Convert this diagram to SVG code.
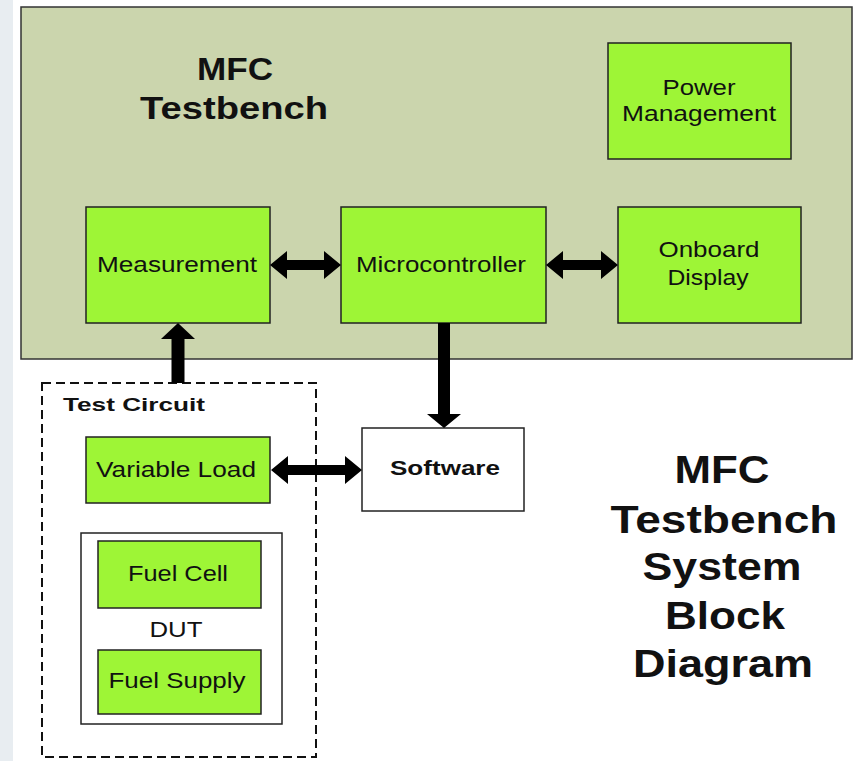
<svg xmlns="http://www.w3.org/2000/svg" width="853" height="761" viewBox="0 0 853 761">
<style>
.t{font-family:"Liberation Sans",Arial,sans-serif;fill:#111;text-anchor:middle}
.n{font-size:22px}
.b{font-weight:bold}
.g{fill:#9ef536;stroke:#222;stroke-width:1.5}
.w{fill:#fff;stroke:#222;stroke-width:1.5}
.a{fill:#000}
</style>
<rect x="0" y="0" width="853" height="761" fill="#fff"/>
<rect x="0" y="0" width="13" height="761" fill="#e8edf1"/>
<g id="testbench">
<rect x="21" y="7" width="831" height="352" fill="#cbd5ad" stroke="#333" stroke-width="1.5"/>
<text class="t b" x="235" y="80" font-size="32" textLength="76" lengthAdjust="spacingAndGlyphs">MFC</text>
<text class="t b" x="234" y="119" font-size="32" textLength="188" lengthAdjust="spacingAndGlyphs">Testbench</text>
</g>
<g id="power">
<rect class="g" x="608" y="43" width="183" height="116"/>
<text class="t n" x="699" y="95" textLength="73" lengthAdjust="spacingAndGlyphs">Power</text>
<text class="t n" x="699" y="121" textLength="154" lengthAdjust="spacingAndGlyphs">Management</text>
</g>
<g id="measurement">
<rect class="g" x="86" y="207" width="184" height="116"/>
<text class="t n" x="177" y="272" textLength="160" lengthAdjust="spacingAndGlyphs">Measurement</text>
</g>
<g id="microcontroller">
<rect class="g" x="341" y="207" width="205" height="116"/>
<text class="t n" x="441" y="272" textLength="170" lengthAdjust="spacingAndGlyphs">Microcontroller</text>
</g>
<g id="display">
<rect class="g" x="618" y="207" width="183" height="116"/>
<text class="t n" x="709" y="257" textLength="101" lengthAdjust="spacingAndGlyphs">Onboard</text>
<text class="t n" x="708" y="285" textLength="81" lengthAdjust="spacingAndGlyphs">Display</text>
</g>
<g id="testcircuit">
<rect x="42" y="383" width="274" height="374" fill="none" stroke="#111" stroke-width="2" stroke-dasharray="9 5"/>
<text class="b" x="63" y="411" font-family="Liberation Sans,Arial,sans-serif" font-size="19" fill="#111" textLength="142" lengthAdjust="spacingAndGlyphs">Test Circuit</text>
</g>
<g id="variableload">
<rect class="g" x="86" y="437" width="184" height="66"/>
<text class="t n" x="176" y="477" textLength="160" lengthAdjust="spacingAndGlyphs">Variable Load</text>
</g>
<g id="dut">
<rect class="w" x="81" y="533" width="201" height="191"/>
<text class="t n" x="176" y="637" textLength="53" lengthAdjust="spacingAndGlyphs">DUT</text>
</g>
<g id="fuelcell">
<rect class="g" x="98" y="541" width="163" height="67"/>
<text class="t n" x="178" y="581" textLength="100" lengthAdjust="spacingAndGlyphs">Fuel Cell</text>
</g>
<g id="fuelsupply">
<rect class="g" x="98" y="650" width="163" height="64"/>
<text class="t n" x="177" y="688" textLength="137" lengthAdjust="spacingAndGlyphs">Fuel Supply</text>
</g>
<g id="software">
<rect class="w" x="362" y="428" width="162" height="83"/>
<text class="t b" x="445" y="475" font-size="20" textLength="110" lengthAdjust="spacingAndGlyphs">Software</text>
</g>
<g id="title">
<text class="t b" x="722" y="483" font-size="39" textLength="95" lengthAdjust="spacingAndGlyphs">MFC</text>
<text class="t b" x="724" y="533" font-size="39" textLength="227" lengthAdjust="spacingAndGlyphs">Testbench</text>
<text class="t b" x="722" y="580" font-size="39" textLength="159" lengthAdjust="spacingAndGlyphs">System</text>
<text class="t b" x="725" y="629" font-size="39" textLength="120" lengthAdjust="spacingAndGlyphs">Block</text>
<text class="t b" x="723" y="677" font-size="39" textLength="180" lengthAdjust="spacingAndGlyphs">Diagram</text>
</g>
<g id="connectors">
<polygon class="a" points="270,265 287,251 287,260 324,260 324,251 341,265 324,279 324,270 287,270 287,279"/>
<polygon class="a" points="546,265 563,251 563,260 601,260 601,251 618,265 601,279 601,270 563,270 563,279"/>
<polygon class="a" points="271,470 288,456 288,465 345,465 345,456 362,470 345,484 345,475 288,475 288,484"/>
<polygon class="a" points="178,323 195,339 184.5,339 184.5,383 171.5,383 171.5,339 161,339"/>
<polygon class="a" points="438,323 450,323 450,414 461,414 444,428 427,414 438,414"/>
</g>
</svg>
